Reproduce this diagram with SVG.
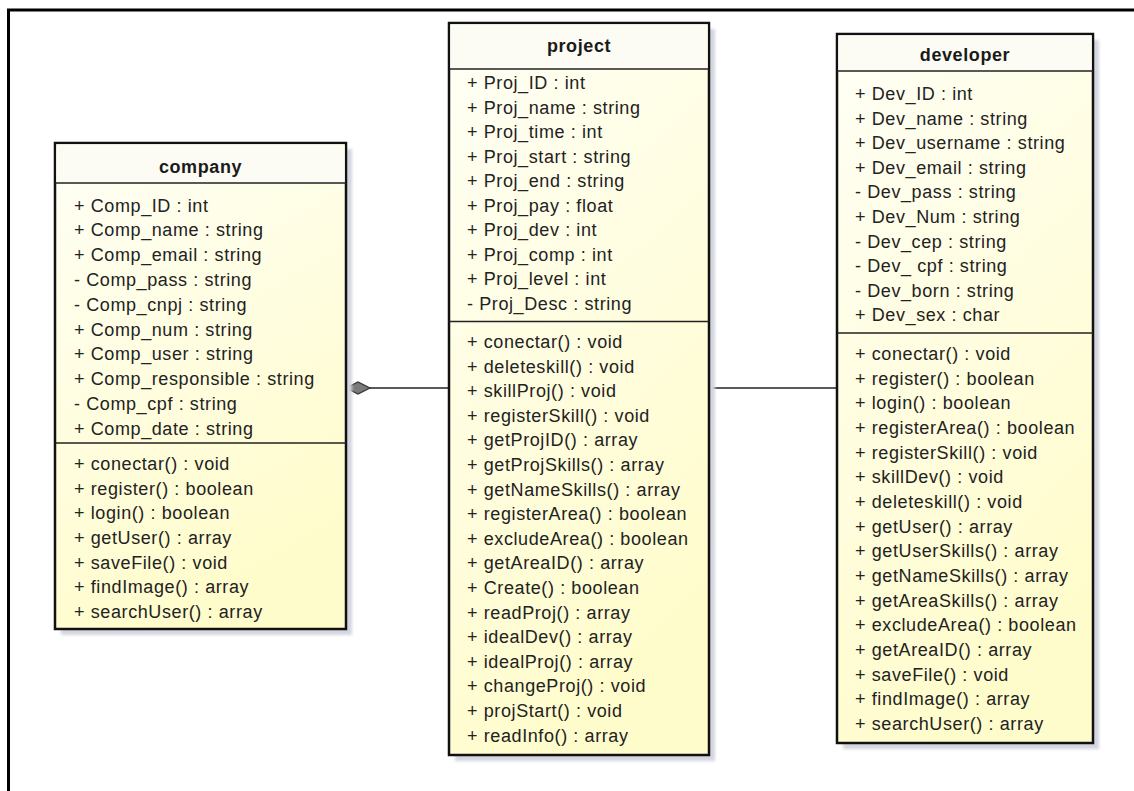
<svg xmlns="http://www.w3.org/2000/svg" width="1134" height="791" viewBox="0 0 1134 791">
<defs>
<linearGradient id="body" x1="0" y1="0" x2="0.35" y2="1">
<stop offset="0" stop-color="#FFFFF6"/>
<stop offset="1" stop-color="#FFFCCC"/>
</linearGradient>
<filter id="blur" x="-5%" y="-5%" width="110%" height="110%">
<feGaussianBlur stdDeviation="1.5"/>
</filter>
</defs>
<style>
.frame{fill:none;stroke:#000;stroke-width:3}
.shadow{fill:#D3D6DE;filter:url(#blur)}
.box{fill:url(#body);stroke:#111;stroke-width:2.5}
.head{fill:#FCFCF4}
.sep{stroke:#222;stroke-width:1.6}
.title{font-family:"Liberation Sans",Arial,sans-serif;font-weight:bold;font-size:18px;letter-spacing:0.6px;fill:#1a1a1a;text-anchor:middle}
.item{font-family:"Liberation Sans",Arial,sans-serif;font-size:18px;letter-spacing:0.6px;fill:#222}
.conn{stroke:#222;stroke-width:1.5;fill:none}
.diamond{fill:#7a7a7a;stroke:#333;stroke-width:1.2}
</style>
<rect width="1134" height="791" fill="#fff"/>
<path class="frame" d="M8.5,791 V10 H1134"/>

<g id="connectors">
<line class="conn" x1="370" y1="388" x2="449" y2="388"/>
<polygon class="diamond" points="346,388 358,382 370,388 358,394"/>
<line class="conn" x1="709" y1="388" x2="837" y2="388"/>
</g>

<g id="company">
<rect class="shadow" x="61" y="149" width="291" height="486"/>
<rect class="box" x="55" y="143" width="291" height="486"/>
<rect class="head" x="56.3" y="144.3" width="288.4" height="38.7"/>
<line class="sep" x1="55" y1="183" x2="346" y2="183"/>
<line class="sep" x1="55" y1="443" x2="346" y2="443"/>
<text class="title" x="200.5" y="173">company</text>
<text class="item" x="74" y="211.5">
<tspan x="74">+ Comp_ID : int</tspan>
<tspan x="74" dy="24.8">+ Comp_name : string</tspan>
<tspan x="74" dy="24.8">+ Comp_email : string</tspan>
<tspan x="74" dy="24.8">- Comp_pass : string</tspan>
<tspan x="74" dy="24.8">- Comp_cnpj : string</tspan>
<tspan x="74" dy="24.8">+ Comp_num : string</tspan>
<tspan x="74" dy="24.8">+ Comp_user : string</tspan>
<tspan x="74" dy="24.8">+ Comp_responsible : string</tspan>
<tspan x="74" dy="24.8">- Comp_cpf : string</tspan>
<tspan x="74" dy="24.8">+ Comp_date : string</tspan>
</text>
<text class="item" x="74" y="469.8">
<tspan x="74">+ conectar() : void</tspan>
<tspan x="74" dy="24.7">+ register() : boolean</tspan>
<tspan x="74" dy="24.7">+ login() : boolean</tspan>
<tspan x="74" dy="24.7">+ getUser() : array</tspan>
<tspan x="74" dy="24.7">+ saveFile() : void</tspan>
<tspan x="74" dy="24.7">+ findImage() : array</tspan>
<tspan x="74" dy="24.7">+ searchUser() : array</tspan>
</text>
</g>

<g id="project">
<rect class="shadow" x="455" y="29" width="260" height="732"/>
<rect class="box" x="449" y="23" width="260" height="732"/>
<rect class="head" x="450.3" y="24.3" width="257.4" height="44.7"/>
<line class="sep" x1="449" y1="69" x2="709" y2="69"/>
<line class="sep" x1="449" y1="321.5" x2="709" y2="321.5"/>
<text class="title" x="579" y="52">project</text>
<text class="item" x="467" y="89">
<tspan x="467">+ Proj_ID : int</tspan>
<tspan x="467" dy="24.5">+ Proj_name : string</tspan>
<tspan x="467" dy="24.5">+ Proj_time : int</tspan>
<tspan x="467" dy="24.5">+ Proj_start : string</tspan>
<tspan x="467" dy="24.5">+ Proj_end : string</tspan>
<tspan x="467" dy="24.5">+ Proj_pay : float</tspan>
<tspan x="467" dy="24.5">+ Proj_dev : int</tspan>
<tspan x="467" dy="24.5">+ Proj_comp : int</tspan>
<tspan x="467" dy="24.5">+ Proj_level : int</tspan>
<tspan x="467" dy="24.5">- Proj_Desc : string</tspan>
</text>
<text class="item" x="467" y="348">
<tspan x="467">+ conectar() : void</tspan>
<tspan x="467" dy="24.6">+ deleteskill() : void</tspan>
<tspan x="467" dy="24.6">+ skillProj() : void</tspan>
<tspan x="467" dy="24.6">+ registerSkill() : void</tspan>
<tspan x="467" dy="24.6">+ getProjID() : array</tspan>
<tspan x="467" dy="24.6">+ getProjSkills() : array</tspan>
<tspan x="467" dy="24.6">+ getNameSkills() : array</tspan>
<tspan x="467" dy="24.6">+ registerArea() : boolean</tspan>
<tspan x="467" dy="24.6">+ excludeArea() : boolean</tspan>
<tspan x="467" dy="24.6">+ getAreaID() : array</tspan>
<tspan x="467" dy="24.6">+ Create() : boolean</tspan>
<tspan x="467" dy="24.6">+ readProj() : array</tspan>
<tspan x="467" dy="24.6">+ idealDev() : array</tspan>
<tspan x="467" dy="24.6">+ idealProj() : array</tspan>
<tspan x="467" dy="24.6">+ changeProj() : void</tspan>
<tspan x="467" dy="24.6">+ projStart() : void</tspan>
<tspan x="467" dy="24.6">+ readInfo() : array</tspan>
</text>
</g>

<g id="developer">
<rect class="shadow" x="843" y="40" width="256" height="709"/>
<rect class="box" x="837" y="34" width="256" height="709"/>
<rect class="head" x="838.3" y="35.3" width="253.4" height="35.7"/>
<line class="sep" x1="837" y1="71" x2="1093" y2="71"/>
<line class="sep" x1="837" y1="333" x2="1093" y2="333"/>
<text class="title" x="965" y="61">developer</text>
<text class="item" x="855" y="100">
<tspan x="855">+ Dev_ID : int</tspan>
<tspan x="855" dy="24.6">+ Dev_name : string</tspan>
<tspan x="855" dy="24.6">+ Dev_username : string</tspan>
<tspan x="855" dy="24.6">+ Dev_email : string</tspan>
<tspan x="855" dy="24.6">- Dev_pass : string</tspan>
<tspan x="855" dy="24.6">+ Dev_Num : string</tspan>
<tspan x="855" dy="24.6">- Dev_cep : string</tspan>
<tspan x="855" dy="24.6">- Dev_ cpf : string</tspan>
<tspan x="855" dy="24.6">- Dev_born : string</tspan>
<tspan x="855" dy="24.6">+ Dev_sex : char</tspan>
</text>
<text class="item" x="855" y="360">
<tspan x="855">+ conectar() : void</tspan>
<tspan x="855" dy="24.67">+ register() : boolean</tspan>
<tspan x="855" dy="24.67">+ login() : boolean</tspan>
<tspan x="855" dy="24.67">+ registerArea() : boolean</tspan>
<tspan x="855" dy="24.67">+ registerSkill() : void</tspan>
<tspan x="855" dy="24.67">+ skillDev() : void</tspan>
<tspan x="855" dy="24.67">+ deleteskill() : void</tspan>
<tspan x="855" dy="24.67">+ getUser() : array</tspan>
<tspan x="855" dy="24.67">+ getUserSkills() : array</tspan>
<tspan x="855" dy="24.67">+ getNameSkills() : array</tspan>
<tspan x="855" dy="24.67">+ getAreaSkills() : array</tspan>
<tspan x="855" dy="24.67">+ excludeArea() : boolean</tspan>
<tspan x="855" dy="24.67">+ getAreaID() : array</tspan>
<tspan x="855" dy="24.67">+ saveFile() : void</tspan>
<tspan x="855" dy="24.67">+ findImage() : array</tspan>
<tspan x="855" dy="24.67">+ searchUser() : array</tspan>
</text>
</g>
</svg>
